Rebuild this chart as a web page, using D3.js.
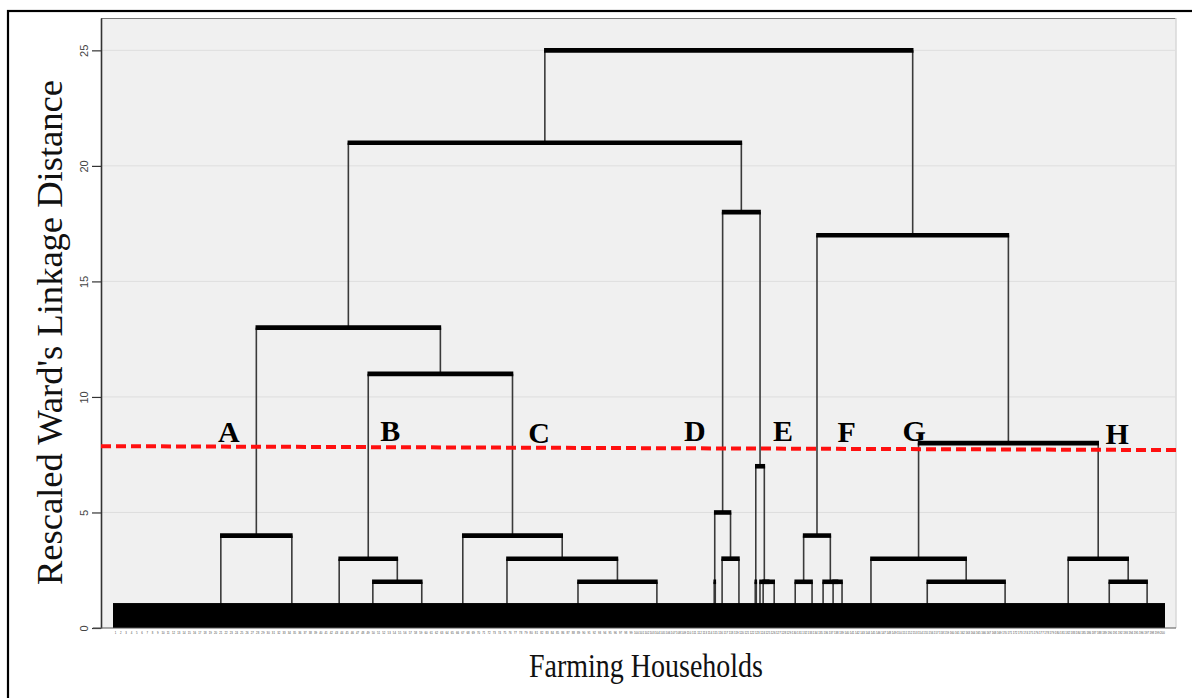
<!DOCTYPE html>
<html>
<head>
<meta charset="utf-8">
<script src="https://cdn.jsdelivr.net/npm/d3@7"></script>
<style>
  html, body { margin: 0; padding: 0; background: #fff; }
  svg { display: block; }
</style>
</head>
<body>
<svg id="chart" width="1192" height="698"></svg>
<script>
// Household ids along the leaf axis (one per farming household)
const households = d3.range(1, 201);

// Distance axis ticks (rescaled Ward's linkage distance, 0–25)
const distanceTicks = [0, 5, 10, 15, 20, 25];

// Lowest visible cluster nodes: [id, position along the household axis]
const leafGroups = [
  ["a1", 20.5], ["a2", 34.0],
  ["b1", 43.0], ["b2", 49.4], ["b3", 58.7],
  ["c1", 66.5], ["c2", 74.9], ["c3", 88.4], ["c4", 103.4],
  ["d1", 114.3], ["d2", 114.5], ["d3", 115.8], ["d4", 119.0],
  ["e1", 122.1], ["e2", 122.3], ["e3", 123.0], ["e4", 123.6], ["e5", 125.7],
  ["f1", 129.7], ["f2", 132.9], ["f3", 135.0], ["f4", 136.9], ["f5", 138.6],
  ["g1", 144.1], ["g2", 154.8], ["g3", 169.6],
  ["h1", 181.6], ["h2", 189.4], ["h3", 196.6]
];

// Agglomeration steps: [id, linkage distance, left child, right child]
const merges = [
  ["A",   4,  "a1", "a2"],
  ["b23", 2,  "b2", "b3"],
  ["B",   3,  "b1", "b23"],
  ["c34", 2,  "c3", "c4"],
  ["c234",3,  "c2", "c34"],
  ["C",   4,  "c1", "c234"],
  ["d12", 2,  "d1", "d2"],
  ["d34", 3,  "d3", "d4"],
  ["D",   5,  "d12", "d34"],
  ["e12", 2,  "e1", "e2"],
  ["e45", 2,  "e4", "e5"],
  ["e345",2,  "e3", "e45"],
  ["E",   7,  "e12", "e345"],
  ["f12", 2,  "f1", "f2"],
  ["f45", 2,  "f4", "f5"],
  ["f345",2,  "f3", "f45"],
  ["F",   4,  "f12", "f345"],
  ["g23", 2,  "g2", "g3"],
  ["G",   3,  "g1", "g23"],
  ["h23", 2,  "h2", "h3"],
  ["H",   3,  "h1", "h23"],
  ["BC",  11, "B", "C"],
  ["ABC", 13, "A", "BC"],
  ["DE",  18, "D", "E"],
  ["AE",  21, "ABC", "DE"],
  ["GH",  8,  "G", "H"],
  ["FH",  17, "F", "GH"],
  ["ALL", 25, "AE", "FH"]
];

// Mass of small merges below distance ~1 (drawn as a solid block)
const baseBlockHeight = 1.08;

// Cut line used to define the eight clusters: [household position, distance]
const cutLine = [[0, 7.87], [200, 7.70]];

// Cluster names and where they are written: [label, household position, distance]
const clusterLabels = [
  ["A", 22.0, 8.05], ["B", 52.7, 8.09], ["C", 81.0, 8.0], ["D", 110.6, 8.09],
  ["E", 127.4, 8.09], ["F", 139.5, 8.05], ["G", 152.3, 8.09], ["H", 190.9, 7.96]
];

const svg = d3.select("#chart");

// Plot panel
const panel = { left: 101, right: 1176, top: 18, bottom: 628 };
const x = d3.scaleLinear().domain([0, 200]).range([113, 1165]);
const y = d3.scaleLinear().domain([0, 26.4]).range([panel.bottom, panel.top]);

// Outer frame
svg.append("rect")
  .attr("x", 8).attr("y", 11)
  .attr("width", 1300).attr("height", 800)
  .attr("fill", "none").attr("stroke", "#000").attr("stroke-width", 2.2);

// Panel background
svg.append("rect")
  .attr("x", panel.left).attr("y", panel.top)
  .attr("width", panel.right - panel.left).attr("height", panel.bottom - panel.top)
  .attr("fill", "#f0f0f0");
svg.append("line")
  .attr("x1", panel.left).attr("x2", panel.right)
  .attr("y1", panel.top + 0.5).attr("y2", panel.top + 0.5)
  .attr("stroke", "#777").attr("stroke-width", 1.2);
svg.append("line")
  .attr("x1", panel.right).attr("x2", panel.right)
  .attr("y1", panel.top).attr("y2", panel.bottom)
  .attr("stroke", "#d8d8d8").attr("stroke-width", 1.5);

// Horizontal grid lines
svg.append("g").selectAll("line")
  .data(distanceTicks.filter(d => d > 0))
  .join("line")
  .attr("x1", panel.left).attr("x2", panel.right)
  .attr("y1", d => y(d)).attr("y2", d => y(d))
  .attr("stroke", "#dedede").attr("stroke-width", 1);

// Build the tree and lay out node positions
const nodes = new Map();
leafGroups.forEach(([id, pos]) => nodes.set(id, { id, pos, h: 0 }));
merges.forEach(([id, h, l, r]) => {
  const left = nodes.get(l), right = nodes.get(r);
  nodes.set(id, { id, h, left, right, pos: (left.pos + right.pos) / 2 });
});
const internal = merges.map(m => nodes.get(m[0]));

// Vertical links from each merge down to its children
const links = [];
internal.forEach(n => {
  [n.left, n.right].forEach(c => links.push({ pos: c.pos, top: n.h, bottom: c.h }));
});
svg.append("g").selectAll("line")
  .data(links)
  .join("line")
  .attr("x1", d => x(d.pos)).attr("x2", d => x(d.pos))
  .attr("y1", d => y(d.top)).attr("y2", d => y(d.bottom))
  .attr("stroke", "#3a3a3a").attr("stroke-width", 1.6);

// Horizontal merge bars
svg.append("g").selectAll("line")
  .data(internal)
  .join("line")
  .attr("x1", d => x(d.left.pos) - 0.8).attr("x2", d => x(d.right.pos) + 0.8)
  .attr("y1", d => y(d.h)).attr("y2", d => y(d.h))
  .attr("stroke", "#000").attr("stroke-width", 4.6);

// Solid block of low-level merges
svg.append("rect")
  .attr("x", x(0)).attr("width", x(200) - x(0))
  .attr("y", y(baseBlockHeight)).attr("height", y(0) - y(baseBlockHeight))
  .attr("fill", "#000");

// Y axis
const yAxis = svg.append("g")
  .attr("transform", `translate(${panel.left},0)`)
  .call(d3.axisLeft(y).tickValues(distanceTicks).tickSize(9).tickSizeOuter(0));
yAxis.select(".domain").attr("stroke", "#333").attr("stroke-width", 1.6);
yAxis.selectAll(".tick line").attr("stroke", "#333").attr("stroke-width", 1.2);
yAxis.selectAll(".tick text")
  .attr("x", 0).attr("y", 0).attr("dy", "0.35em")
  .attr("text-anchor", "middle")
  .attr("transform", "translate(-17,0) rotate(-90)")
  .attr("font-family", "Liberation Sans, Arial, sans-serif")
  .attr("font-size", 11).attr("fill", "#444");

// Bottom axis line
svg.append("line")
  .attr("x1", panel.left - 8).attr("x2", panel.right)
  .attr("y1", panel.bottom).attr("y2", panel.bottom)
  .attr("stroke", "#555").attr("stroke-width", 1.2);

// Household labels along the bottom (too small to read at this size)
svg.append("g").selectAll("text")
  .data(households)
  .join("text")
  .attr("x", (d, i) => x(i + 0.5))
  .attr("y", 634)
  .attr("text-anchor", "middle")
  .attr("font-family", "Liberation Sans, Arial, sans-serif")
  .attr("font-size", 2.8)
  .attr("fill", "#444")
  .text(d => d);

// Cluster cut line
svg.append("line")
  .attr("x1", panel.left).attr("x2", panel.right)
  .attr("y1", y(cutLine[0][1])).attr("y2", y(cutLine[1][1]))
  .attr("stroke", "#ff1010").attr("stroke-width", 4)
  .attr("stroke-dasharray", "10,5");

// Cluster letters
svg.append("g").selectAll("text")
  .data(clusterLabels)
  .join("text")
  .attr("x", d => x(d[1])).attr("y", d => y(d[2]))
  .attr("text-anchor", "middle")
  .attr("font-family", "Liberation Serif, Times New Roman, serif")
  .attr("font-weight", "bold")
  .attr("font-size", 30)
  .attr("fill", "#000")
  .text(d => d[0]);

// Axis titles
svg.append("text")
  .attr("transform", `translate(62,${(585 + 80) / 2}) rotate(-90)`)
  .attr("text-anchor", "middle")
  .attr("textLength", 505).attr("lengthAdjust", "spacingAndGlyphs")
  .attr("font-family", "Liberation Serif, Times New Roman, serif")
  .attr("font-size", 36)
  .attr("fill", "#111")
  .text("Rescaled Ward's Linkage Distance");

svg.append("text")
  .attr("x", 529).attr("y", 677)
  .attr("textLength", 234).attr("lengthAdjust", "spacingAndGlyphs")
  .attr("font-family", "Liberation Serif, Times New Roman, serif")
  .attr("font-size", 33)
  .attr("fill", "#111")
  .text("Farming Households");
</script>
</body>
</html>
